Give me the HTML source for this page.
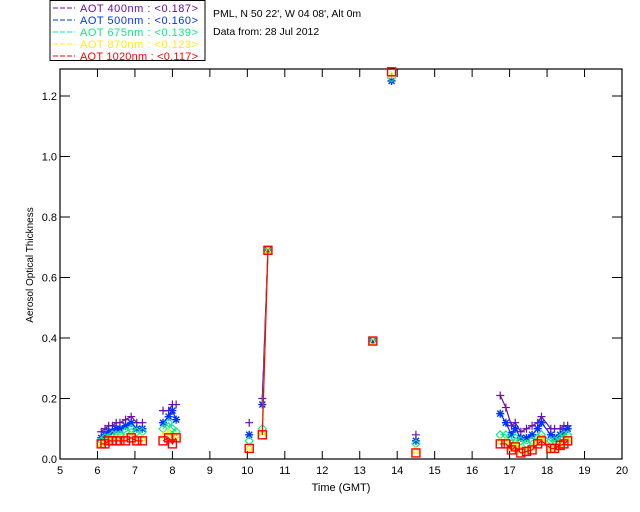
<!DOCTYPE html>
<html><head><meta charset="utf-8"><style>
body{margin:0;background:#fff;}
svg{display:block;font-family:"Liberation Sans",sans-serif;}
</style></head><body>
<svg id="chart" width="640" height="512">
<g>
<rect x="50" y="0.5" width="155" height="60" fill="none" stroke="#000"/>
</g>
<text x="213" y="17" font-size="10.5">PML, N 50 22', W 04 08', Alt 0m</text>
<text x="213" y="35" font-size="10.5">Data from: 28 Jul 2012</text>
<text transform="translate(33,265) rotate(-90)" text-anchor="middle" font-size="10">Aerosol Optical Thickness</text>
<text x="341" y="491" text-anchor="middle" font-size="11">Time (GMT)</text>
<g id="axes"></g>
<g id="plot"></g>
</svg>
<script>
const times=[6.1,6.2,6.3,6.4,6.5,6.6,6.75,6.9,7.05,7.2,7.75,7.9,8.0,8.1,10.05,10.4,10.55,13.35,13.85,14.5,16.75,16.9,17.05,17.15,17.3,17.45,17.6,17.75,17.85,18.1,18.2,18.35,18.45,18.55];
const aot400=[0.09,0.10,0.11,0.11,0.12,0.12,0.13,0.14,0.12,0.12,0.16,0.16,0.18,0.18,0.12,0.20,0.69,0.39,1.25,0.08,0.21,0.17,0.11,0.12,0.09,0.10,0.11,0.12,0.14,0.10,0.10,0.10,0.11,0.11];
const aot500=[0.07,0.08,0.09,0.09,0.10,0.10,0.11,0.12,0.10,0.10,0.12,0.14,0.16,0.13,0.08,0.18,0.69,0.39,1.25,0.06,0.15,0.12,0.08,0.10,0.07,0.07,0.08,0.10,0.12,0.08,0.07,0.08,0.09,0.10];
const aot675=[0.06,0.07,0.07,0.08,0.08,0.08,0.09,0.10,0.09,0.09,0.10,0.12,0.10,0.09,0.06,0.10,0.69,0.39,1.26,0.05,0.08,0.08,0.05,0.07,0.06,0.05,0.06,0.07,0.08,0.06,0.06,0.07,0.08,0.08];
const aot870=[0.05,0.06,0.06,0.07,0.07,0.07,0.07,0.08,0.06,0.07,0.08,0.09,0.07,0.08,0.04,0.09,0.69,0.39,1.27,0.03,0.06,0.06,0.04,0.05,0.03,0.03,0.04,0.06,0.07,0.04,0.04,0.05,0.06,0.07];
const aot1020=[0.05,0.05,0.06,0.06,0.06,0.06,0.06,0.07,0.06,0.06,0.06,0.07,0.05,0.07,0.035,0.08,0.69,0.39,1.28,0.02,0.05,0.05,0.03,0.04,0.02,0.025,0.03,0.05,0.06,0.035,0.035,0.045,0.05,0.06];
const legendLabels=["AOT  400nm : <0.187>","AOT  500nm : <0.160>","AOT  675nm : <0.139>","AOT  870nm : <0.123>","AOT 1020nm : <0.117>"];
const xTicks=[5,6,7,8,9,10,11,12,13,14,15,16,17,18,19,20];
const yTicks=[0,0.2,0.4,0.6,0.8,1.0,1.2];
const yTickLabels=["0.0","0.2","0.4","0.6","0.8","1.0","1.2"];

const NS="http://www.w3.org/2000/svg";
const L=60,R=622,T=69,B=459,XMIN=5,XMAX=20,YMAX=1.2893;
const xs=h=>L+(h-XMIN)/(XMAX-XMIN)*(R-L);
const ys=v=>B-v/YMAX*(B-T);
function mk(tag,attrs,parent){const e=document.createElementNS(NS,tag);for(const k in attrs)e.setAttribute(k,attrs[k]);parent.appendChild(e);return e;}
const axes=document.getElementById('axes'),plot=document.getElementById('plot'),svg=document.getElementById('chart');
const frame=mk('rect',{x:L,y:T,width:R-L,height:B-T,fill:'none',stroke:'#000','stroke-width':1.2},axes);


xTicks.forEach(t=>{const x=xs(t);
 mk('line',{x1:x,y1:B,x2:x,y2:B-8,stroke:'#000'},axes);
 mk('line',{x1:x,y1:T,x2:x,y2:T+8,stroke:'#000'},axes);
 const tx=mk('text',{x:x,y:B+15,'text-anchor':'middle','font-size':11},axes);tx.textContent=t;
 
 
});
yTicks.forEach((t,i)=>{const y=ys(t);
 mk('line',{x1:L,y1:y,x2:L+10,y2:y,stroke:'#000'},axes);
 mk('line',{x1:R,y1:y,x2:R-10,y2:y,stroke:'#000'},axes);
 const tx=mk('text',{x:L-3,y:y+4,'text-anchor':'end','font-size':11},axes);tx.textContent=yTickLabels[i];
 
 
});
const series=[{d:aot400,c:'#6a0dad',m:'plus'},{d:aot500,c:'#0033ff',m:'star'},{d:aot675,c:'#00ee88',m:'diamond'},{d:aot870,c:'#ffee00',m:'tri'},{d:aot1020,c:'#ff0000',m:'square'}];
function marker(g,m,x,y,c){
 if(m==='plus'){mk('path',{d:`M${x-4},${y}H${x+4}M${x},${y-4}V${y+4}`,stroke:c,'stroke-width':1.2,fill:'none'},g);}
 else if(m==='star'){mk('path',{d:`M${x-4},${y}H${x+4}M${x},${y-4}V${y+4}M${x-3},${y-3}L${x+3},${y+3}M${x-3},${y+3}L${x+3},${y-3}`,stroke:c,'stroke-width':1.4,fill:'none'},g);}
 else if(m==='diamond'){mk('path',{d:`M${x},${y-4}L${x+4},${y}L${x},${y+4}L${x-4},${y}Z`,stroke:c,'stroke-width':1.1,fill:'none'},g);}
 else if(m==='tri'){mk('path',{d:`M${x},${y-3}L${x+3},${y+3}L${x-3},${y+3}Z`,stroke:c,'stroke-width':1.1,fill:'none'},g);}
 else {mk('rect',{x:x-4,y:y-4,width:8,height:8,stroke:c,'stroke-width':1.4,fill:'none'},g);}
}
series.forEach((s,si)=>{
 const g=mk('g',{},plot);
 
 
 let d='';
 times.forEach((t,i)=>{const x=xs(t),y=ys(s.d[i]);
  d+=(i===0||t-times[i-1]>0.3)?`M${x},${y}`:`L${x},${y}`;});
 mk('path',{d:d,stroke:s.c,'stroke-width':1.2,fill:'none'},g);
 times.forEach((t,i)=>marker(g,s.m,xs(t),ys(s.d[i]),s.c));
 const ly=8+si*12;
 mk('line',{x1:53,y1:ly,x2:75,y2:ly,stroke:s.c,'stroke-dasharray':'5,2'},svg);
 const lt=mk('text',{x:80,y:ly+4,'font-size':11,fill:s.c,textLength:118,lengthAdjust:'spacing','xml:space':'preserve'},svg);
 lt.textContent=legendLabels[si];
 
 
});
</script>
</body></html>
